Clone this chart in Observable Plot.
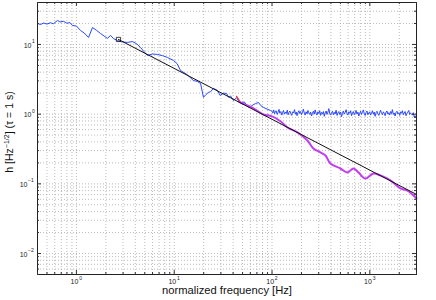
<!DOCTYPE html>
<html><head><meta charset="utf-8">
<script src="https://cdn.jsdelivr.net/npm/d3@7"></script>
<script src="https://cdn.jsdelivr.net/npm/@observablehq/plot@0.6"></script>
<style>body{margin:0;background:#fff}</style>
</head><body><div id="chart"></div><script>
// measured spectrum (blue) – low-frequency part
const blueLowFreq = [0.40,0.43,0.46,0.50,0.544,0.58,0.641,0.68,0.738,0.80,0.86,0.912,1.0,1.10,1.2,1.33,1.46,1.6,1.76,1.92,2.08,2.23,2.4,2.63,2.9,3.33,3.74,4.1,4.52,4.9,5.33,6.0,6.75,7.6,8.53,9.84,10.7,11.6,13.5,15.7,17.2,18.6,19.9,21,22.4,23.5,25.2,27.7,29.5,31.9,34.3,36,37.7,40.4,43.4,45.5,48.8,52,56.1,58.9,64,68,72.8,77,81.8,89,96.4];
const blueLowAmp = [20.0,19.3,20.3,19.6,20.5,19.8,22.1,21.0,21.5,20.2,20.6,18.7,18.4,15.9,14.6,12.6,17.5,16.0,14.4,13.2,12.2,13.5,12.1,11.4,10.9,10.7,11.0,10.3,9.06,7.9,6.95,7.3,7.19,6.9,6.51,5.89,5.3,4.23,3.7,3.04,2.95,2.75,1.74,1.9,2.05,2.1,2.34,2.19,1.85,2.0,1.98,1.75,1.82,1.57,1.72,1.55,1.43,1.50,1.30,1.25,1.36,1.42,1.47,1.32,1.25,1.18,1.13];
// measured spectrum (blue) – white-noise floor
const blueHighFreq = [100,102,104,106,108,110,113,115,118,120,
123,126,128,131,134,137,140,143,146,149,
152,156,159,162,166,170,173,177,180,184,
188,192,196,200,205,209,214,218,223,228,
233,238,243,248,254,259,265,270,276,282,
288,294,301,307,314,321,328,335,342,349,
357,365,373,381,389,397,406,415,424,433,
442,452,462,472,482,492,503,514,525,536,
548,560,572,584,597,610,623,636,650,664,
678,693,708,723,739,755,771,788,805,822,
840,858,877,896,915,935,955,976,997,1018,
1040,1063,1086,1109,1133,1158,1183,1208,1234,1261,
1288,1316,1345,1374,1403,1434,1465,1497,1529,1562,
1596,1630,1665,1701,1738,1776,1814,1853,1893,1934,
1976,2019,2062,2107,2152,2199,2246,2295,2344,2395,
2447,2500,2554,2609,2665,2723,2782,2842,2900,2950,
3000];
const blueHighAmp = [1.10,1.04,1.15,1.01,1.08,1.12,0.99,1.06,1.17,1.03,
1.09,0.97,1.05,1.13,1.00,1.07,1.02,1.14,0.98,1.06,
1.11,1.01,0.96,1.08,1.04,1.16,1.00,1.07,0.95,1.05,
1.12,1.02,1.09,0.98,1.06,1.18,1.03,0.97,1.08,1.01,
1.13,1.04,0.99,1.07,0.94,1.05,1.10,1.00,1.15,1.03,
0.97,1.08,1.02,1.12,0.96,1.06,1.01,1.09,0.93,1.04,
1.11,0.99,1.07,1.20,1.02,0.97,1.05,1.10,0.98,1.06,
1.01,1.14,0.96,1.04,1.09,0.99,1.07,0.92,1.03,1.11,
1.00,1.06,1.16,1.02,0.97,1.08,1.03,1.12,0.95,1.05,
1.09,0.98,1.04,1.13,1.00,1.07,0.94,1.03,1.10,0.99,
1.06,1.15,1.01,0.96,1.05,1.11,0.98,1.04,1.08,0.97,
1.03,1.12,1.00,1.07,0.93,1.05,1.10,1.01,0.96,1.06,
1.14,1.02,0.98,1.08,1.03,0.95,1.07,1.11,1.00,1.05,
0.97,1.09,1.02,1.16,0.99,1.04,0.94,1.06,1.10,1.01,
1.05,0.96,1.08,1.03,1.12,0.98,1.04,1.09,0.95,1.02,
1.07,1.13,0.99,1.04,1.01,0.97,1.05,0.91,0.95,0.88,
0.93];
// smoothed spectrum (purple)
const purpleFreq = [45.5,47.6,56,64.7,72,81.8,100,122,144,182,230,265,313,352,395,500,590,680,764,901,1088,1283,1624,2056,2424,3000];
const purpleAmp = [1.52,1.47,1.33,1.21,1.10,0.99,0.93,0.79,0.644,0.546,0.419,0.322,0.282,0.255,0.196,0.166,0.146,0.166,0.146,0.119,0.141,0.132,0.112,0.086,0.080,0.062];
// red fragment
const redFreq = [43.4,47];
const redAmp = [1.80,1.52];
// power-law fit (black)
const fitFreq = [2.69,3000];
const fitAmp = [11.8,0.0705];
const markerFreq = [2.69];
const markerAmp = [11.8];
// ticks
const xDecades = [1,10,100,1000];
const xExp = ["0","1","2","3"];
const yDecades = [0.01,0.1,1,10];
const yExp = ["\u22122","\u22121","0","1"];

const xDom = [0.4,3000], yDom = [0.005,40];
const minorOf = (dom) => { const out=[]; for (let k=-4;k<=4;k++) for (let m=1;m<=9;m++){const v=+(m*Math.pow(10,k)).toPrecision(3); if(v>=dom[0]&&v<=dom[1]) out.push(v);} return out; };
const xGrid = minorOf(xDom), yGrid = minorOf(yDom);
const xMinor = xGrid.filter(v=>!xDecades.includes(v));
const yMinor = yGrid.filter(v=>!yDecades.includes(v));

const blueFreq = blueLowFreq.concat(blueHighFreq);
const blueAmp = blueLowAmp.concat(blueHighAmp);
const blue = blueFreq.map((f,i)=>({f, h: blueAmp[i]}));
const purple = purpleFreq.map((f,i)=>({f, h: purpleAmp[i]}));
const red = redFreq.map((f,i)=>({f, h: redAmp[i]}));
const fit = fitFreq.map((f,i)=>({f, h: fitAmp[i]}));
const marker = markerFreq.map((f,i)=>({f, h: markerAmp[i]}));
const yT = yDecades.map((v,i)=>({v, e: yExp[i]}));

const W=436, H=300, mL=37, mR=20, mT=2, mB=26;
const pw = W-mL-mR, ph = H-mT-mB;
const tick = "#333";
const font = "'Liberation Sans', Arial, Helvetica, sans-serif";

const chart = Plot.plot({
  width: W, height: H, marginLeft: mL, marginRight: mR, marginTop: mT, marginBottom: mB,
  style: {fontFamily: font, background: "#fff", color: "#000"},
  x: {type: "log", domain: xDom, axis: null},
  y: {type: "log", domain: yDom, axis: null},
  marks: [
    Plot.ruleX(xGrid, {x: d=>d, stroke: "#aaa", strokeWidth: 0.8, strokeDasharray: "1,2"}),
    Plot.ruleY(yGrid, {y: d=>d, stroke: "#aaa", strokeWidth: 0.8, strokeDasharray: "1,2"}),
    Plot.line(blue, {x: "f", y: "h", stroke: "#2a48ff", strokeWidth: 1}),
    Plot.line(red, {x: "f", y: "h", stroke: "#ff2a2a", strokeWidth: 1.2}),
    Plot.line(purple, {x: "f", y: "h", stroke: "#c23cf2", strokeWidth: 2, curve: "catmull-rom"}),
    Plot.line(fit, {x: "f", y: "h", stroke: "#111", strokeWidth: 1}),
    Plot.dot(marker, {x: "f", y: "h", symbol: "square", r: 2.4, stroke: "#111", strokeWidth: 0.8, fill: "none"}),
    Plot.frame({stroke: "#222", strokeWidth: 1}),
    // inward ticks
    Plot.tickX(xDecades, {x: d=>d, insetTop: ph-4, stroke: tick}),
    Plot.tickX(xDecades, {x: d=>d, insetBottom: ph-4, stroke: tick}),
    Plot.tickX(xMinor, {x: d=>d, insetTop: ph-2, stroke: tick}),
    Plot.tickX(xMinor, {x: d=>d, insetBottom: ph-2, stroke: tick}),
    Plot.tickY(yDecades, {y: d=>d, insetRight: pw-4, stroke: tick}),
    Plot.tickY(yDecades, {y: d=>d, insetLeft: pw-4, stroke: tick}),
    Plot.tickY(yMinor, {y: d=>d, insetRight: pw-2, stroke: tick}),
    Plot.tickY(yMinor, {y: d=>d, insetLeft: pw-2, stroke: tick}),
    // x tick labels
    Plot.text(xDecades, {x: d=>d, text: () => "10", frameAnchor: "bottom", dy: 9, dx: 2, textAnchor: "end", fontSize: 7, fill: "#222"}),
    Plot.text(xDecades, {x: d=>d, text: (d,i) => xExp[i], frameAnchor: "bottom", dy: 5, dx: 2.8, textAnchor: "start", fontSize: 5, fill: "#222"}),
    // y tick labels
    Plot.text(yT.filter(d=>d.e.length===1), {y: "v", text: () => "10", frameAnchor: "left", dx: -6, dy: 1, textAnchor: "end", fontSize: 7, fill: "#222"}),
    Plot.text(yT.filter(d=>d.e.length===1), {y: "v", text: "e", frameAnchor: "left", dx: -5.4, dy: -3, textAnchor: "start", fontSize: 5, fill: "#222"}),
    Plot.text(yT.filter(d=>d.e.length>1), {y: "v", text: () => "10", frameAnchor: "left", dx: -10, dy: 1, textAnchor: "end", fontSize: 7, fill: "#222"}),
    Plot.text(yT.filter(d=>d.e.length>1), {y: "v", text: "e", frameAnchor: "left", dx: -9.4, dy: -3, textAnchor: "start", fontSize: 5, fill: "#222"}),
    // x axis title
    Plot.text(["normalized frequency [Hz]"], {frameAnchor: "bottom", dy: 19.5, fontSize: 11.2, fill: "#111"})
  ]
});
document.getElementById("chart").appendChild(chart);

// y axis title with superscript
const svg = d3.select(chart);
const t = svg.append("text")
  .attr("transform", "translate(13,132) rotate(-90)")
  .attr("text-anchor", "middle")
  .attr("font-family", font)
  .attr("font-size", 10.5)
  .attr("fill", "#111");
t.append("tspan").text("h [Hz");
t.append("tspan").attr("font-size", 7).attr("dy", -4).text("\u22121/2");
t.append("tspan").attr("dy", 4).text("] (\u03c4 = 1 s)");
</script></body></html>
